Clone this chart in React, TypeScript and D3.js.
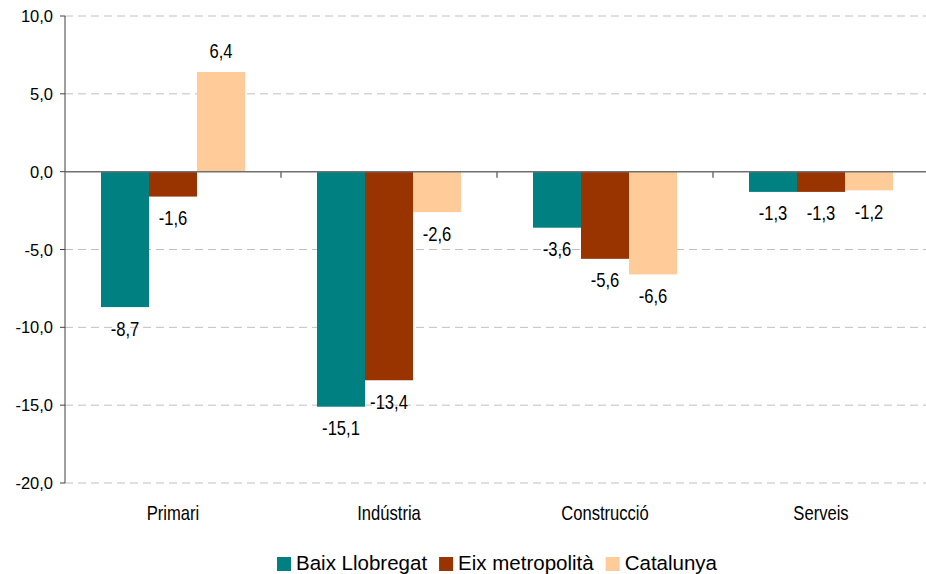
import React, { useEffect, useRef } from "react";
import * as d3 from "d3";

const categories = ["Primari", "Indústria", "Construcció", "Serveis"];
const seriesNames = ["Baix Llobregat", "Eix metropolità", "Catalunya"];
const baixLlobregat = [-8.7, -15.1, -3.6, -1.3];
const eixMetropolita = [-1.6, -13.4, -5.6, -1.3];
const catalunya = [6.4, -2.6, -6.6, -1.2];
const yTicks = [10, 5, 0, -5, -10, -15, -20];
const colors = ["#008080", "#993300", "#FFCC99"];

const W = 926;
const H = 574;
const left = 65;
const right = 929;
const top = 16;
const bottom = 483;

const fmt = (v: number) => v.toFixed(1).replace(".", ",");

export default function App() {
  const ref = useRef<SVGSVGElement | null>(null);

  useEffect(() => {
    const svg = d3.select(ref.current);
    svg.selectAll("*").remove();
    const values = [baixLlobregat, eixMetropolita, catalunya];

    const y = d3.scaleLinear().domain([-20, 10]).range([bottom, top]);
    const x = d3.scaleBand<string>().domain(categories).range([left, right]).paddingInner(0).paddingOuter(0);
    const xs = d3.scaleBand<string>().domain(seriesNames).range([0, x.bandwidth()]).paddingInner(0).paddingOuter(0.75);

    const regular = "'Liberation Sans', Arial, sans-serif";
    const squeeze = 0.83;

    // gridlines
    svg.append("g")
      .selectAll("line")
      .data(yTicks.filter((t) => t !== 0))
      .join("line")
      .attr("x1", left)
      .attr("x2", right)
      .attr("y1", (d) => y(d))
      .attr("y2", (d) => y(d))
      .attr("stroke", "#c0c0c0")
      .attr("stroke-width", 1)
      .attr("stroke-dasharray", "8,5");

    // bars
    seriesNames.forEach((s, si) => {
      const g = svg.append("g");
      const rows = categories.map((c, ci) => ({ c, v: values[si][ci] }));
      g.selectAll("rect")
        .data(rows)
        .join("rect")
        .attr("x", (d) => (x(d.c) as number) + (xs(s) as number))
        .attr("width", xs.bandwidth())
        .attr("y", (d) => y(Math.max(0, d.v)))
        .attr("height", (d) => Math.abs(y(d.v) - y(0)))
        .attr("fill", colors[si]);
      g.selectAll("text")
        .data(rows)
        .join("text")
        .attr("transform", (d) => {
          const tx = (x(d.c) as number) + (xs(s) as number) + xs.bandwidth() / 2;
          const ty = d.v >= 0 ? y(d.v) - 14 : y(d.v) + 28.5;
          return `translate(${tx},${ty}) scale(${squeeze},1)`;
        })
        .attr("text-anchor", "middle")
        .attr("font-family", regular)
        .attr("font-size", 20)
        .attr("fill", "#000")
        .text((d) => fmt(d.v));
    });

    // y axis
    svg.append("line")
      .attr("x1", left).attr("x2", left)
      .attr("y1", top).attr("y2", bottom)
      .attr("stroke", "#404040").attr("stroke-width", 1);
    const yt = svg.append("g");
    yt.selectAll("line")
      .data(yTicks)
      .join("line")
      .attr("x1", left - 5).attr("x2", left)
      .attr("y1", (d) => y(d)).attr("y2", (d) => y(d))
      .attr("stroke", "#404040");
    yt.selectAll("text")
      .data(yTicks)
      .join("text")
      .attr("x", 53)
      .attr("y", (d) => y(d) + 6)
      .attr("text-anchor", "end")
      .attr("font-family", regular)
      .attr("font-size", 16.5)
      .attr("fill", "#000")
      .text((d) => fmt(d));

    // zero axis line
    svg.append("line")
      .attr("x1", left).attr("x2", right)
      .attr("y1", y(0)).attr("y2", y(0))
      .attr("stroke", "#707070").attr("stroke-width", 1.5);
    // category boundary ticks
    svg.append("g")
      .selectAll("line")
      .data(categories.slice(1))
      .join("line")
      .attr("x1", (d) => x(d) as number)
      .attr("x2", (d) => x(d) as number)
      .attr("y1", y(0))
      .attr("y2", y(0) + 6)
      .attr("stroke", "#707070")
      .attr("stroke-width", 1.5);

    // category labels
    svg.append("g")
      .selectAll("text")
      .data(categories)
      .join("text")
      .attr("transform", (d) => `translate(${(x(d) as number) + x.bandwidth() / 2},520) scale(${squeeze},1)`)
      .attr("text-anchor", "middle")
      .attr("font-family", regular)
      .attr("font-size", 20)
      .attr("fill", "#000")
      .text((d) => d);

    // legend
    const lg = svg.append("g");
    const items = lg.selectAll("g").data(seriesNames).join("g");
    items.append("rect")
      .attr("width", 14).attr("height", 14)
      .attr("y", 557)
      .attr("fill", (_d, i) => colors[i]);
    items.append("text")
      .attr("y", 570)
      .attr("font-family", regular)
      .attr("font-size", 20.5)
      .attr("fill", "#000")
      .text((d) => d);
    const widths: number[] = [];
    items.select("text").each(function () {
      widths.push((this as SVGTextElement).getComputedTextLength());
    });
    const sq = 14, gapT = 5, gapI = 12;
    const total = d3.sum(widths) + seriesNames.length * (sq + gapT) + (seriesNames.length - 1) * gapI;
    let cx = (left + right) / 2 - total / 2;
    items.each(function (_d, i) {
      const g = d3.select(this);
      g.select("rect").attr("x", cx);
      g.select("text").attr("x", cx + sq + gapT);
      cx += sq + gapT + widths[i] + gapI;
    });
  }, []);

  return (
    <svg
      ref={ref}
      width={W}
      height={H}
      style={{ position: "absolute", left: 0, top: 0, background: "#fff" }}
    />
  );
}
